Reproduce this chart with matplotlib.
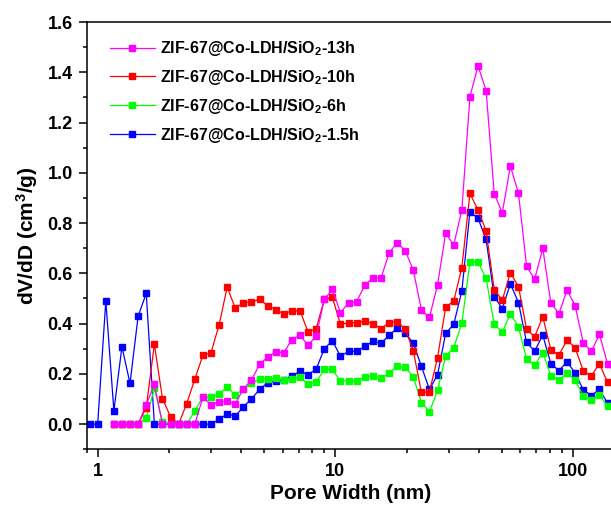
import numpy as np
import matplotlib
matplotlib.use("Agg")
import matplotlib.pyplot as plt
from matplotlib.ticker import MultipleLocator, LogLocator, FixedLocator, FixedFormatter, NullFormatter

nan = np.nan

# pore width grid (nm)
pore_width = [
    0.926, 1.001, 1.083, 1.171, 1.266, 1.369, 1.481, 1.602, 1.733, 1.874,
    2.027, 2.192, 2.371, 2.564, 2.773, 2.999, 3.243, 3.508, 3.793, 4.103,
    4.437, 4.799, 5.190, 5.613, 6.070, 6.566, 7.101, 7.680, 8.306, 8.983,
    9.714, 10.51, 11.36, 12.29, 13.29, 14.38, 15.55, 16.82, 18.19, 19.67,
    21.27, 23.01, 24.88, 26.91, 29.10, 31.47, 34.04, 36.81, 39.81, 43.06,
    46.57, 50.36, 54.47, 58.91, 63.71, 68.90, 74.52, 80.59, 87.16, 94.28,
    101.9, 110.3, 119.3, 129.0, 139.5, 150.9,
]

dv_13h = [
    nan, nan, nan, 0, 0, 0, 0, 0.077, 0.158, 0,
    0, 0, 0, 0, 0.107, 0.078, 0.089, 0.091, 0.081, 0.140,
    0.175, 0.238, 0.267, 0.287, 0.285, 0.336, 0.354, 0.314, 0.350, 0.496,
    0.536, 0.443, 0.483, 0.487, 0.553, 0.582, 0.580, 0.681, 0.722, 0.690,
    0.613, 0.454, 0.425, 0.555, 0.760, 0.713, 0.852, 1.303, 1.425, 1.327,
    0.917, 0.841, 1.027, 0.918, 0.629, 0.576, 0.700, 0.482, 0.440, 0.533,
    0.472, 0.324, 0.290, 0.357, 0.241, 0.200,
]

dv_10h = [
    nan, nan, nan, 0, 0, 0, 0, 0.066, 0.318, 0.102,
    0.029, 0, 0.082, 0.179, 0.274, 0.284, 0.395, 0.545, 0.462, 0.482,
    0.487, 0.496, 0.472, 0.456, 0.439, 0.451, 0.451, 0.367, 0.380, 0.496,
    0.504, 0.397, 0.404, 0.404, 0.410, 0.400, 0.380, 0.404, 0.408, 0.378,
    0.293, 0.126, 0.129, 0.265, 0.465, 0.490, 0.623, 0.918, 0.852, 0.769,
    0.535, 0.493, 0.602, 0.547, 0.378, 0.348, 0.427, 0.296, 0.275, 0.334,
    0.305, 0.212, 0.192, 0.241, 0.166, 0.140,
]

dv_6h = [
    nan, nan, nan, 0, 0, 0, 0, 0.024, 0.142, 0.010,
    0, 0, 0, 0.053, 0.107, 0.107, 0.120, 0.148, 0.115, 0.140,
    0.162, 0.180, 0.180, 0.183, 0.175, 0.178, 0.187, 0.159, 0.167, 0.218,
    0.218, 0.170, 0.173, 0.170, 0.188, 0.192, 0.184, 0.202, 0.231, 0.226,
    0.188, 0.086, 0.050, 0.134, 0.272, 0.305, 0.401, 0.645, 0.645, 0.580,
    0.398, 0.365, 0.440, 0.387, 0.259, 0.235, 0.285, 0.192, 0.175, 0.204,
    0.175, 0.113, 0.098, 0.115, 0.073, 0.060,
]

dv_1p5h = [
    0, 0, 0.491, 0.053, 0.308, 0.162, 0.430, 0.520, 0, 0,
    0, 0, 0, 0, 0, 0, 0.019, 0.041, 0.032, 0.069,
    0.100, 0.138, 0.165, 0.172, 0.177, 0.192, 0.210, 0.197, 0.219, 0.300,
    0.332, 0.270, 0.290, 0.290, 0.309, 0.330, 0.322, 0.353, 0.382, 0.363,
    0.322, 0.230, 0.138, 0.197, 0.361, 0.397, 0.530, 0.845, 0.819, 0.735,
    0.507, 0.460, 0.558, 0.484, 0.325, 0.291, 0.354, 0.241, 0.213, 0.248,
    0.204, 0.137, 0.114, 0.138, 0.084, 0.055,
]

labels = [
    r"ZIF-67@Co-LDH/SiO$_\mathbf{2}$-13h",
    r"ZIF-67@Co-LDH/SiO$_\mathbf{2}$-10h",
    r"ZIF-67@Co-LDH/SiO$_\mathbf{2}$-6h",
    r"ZIF-67@Co-LDH/SiO$_\mathbf{2}$-1.5h",
]
colors = ["#FF00FF", "#FF0000", "#00FF00", "#0000FF"]
series = [dv_13h, dv_10h, dv_6h, dv_1p5h]

plt.rcParams["font.family"] = ["Liberation Sans", "DejaVu Sans"]
plt.rcParams["font.weight"] = "bold"
plt.rcParams["mathtext.fontset"] = "custom"
plt.rcParams["mathtext.rm"] = "Liberation Sans:bold"
plt.rcParams["mathtext.bf"] = "Liberation Sans:bold"
plt.rcParams["mathtext.it"] = "Liberation Sans:bold"

fig = plt.figure(figsize=(6.11, 5.09), dpi=100)
W, H = 611, 509
left, right, top, bottom = 86.7, 615.0, 22.0, 449.3
ax = fig.add_axes([left / W, 1 - bottom / H, (right - left) / W, (bottom - top) / H])

# 13h on top, 1.5h at the bottom
zorders = [5, 4, 3, 2]
for ys, lab, c, z in zip(series, labels, colors, zorders):
    ax.plot(pore_width, ys, color=c, lw=0.9, marker="s", ms=4,
            mec=c, mfc=c, label=lab, zorder=z)

ax.set_xscale("log")
ax.set_xlim(0.9, 150)
ax.set_ylim(-0.1, 1.6)

ax.xaxis.set_major_locator(FixedLocator([1, 10, 100]))
ax.xaxis.set_major_formatter(FixedFormatter(["1", "10", "100"]))
ax.xaxis.set_minor_locator(LogLocator(base=10, subs=[2, 3, 4, 5, 6, 7, 8, 9], numticks=20))
ax.xaxis.set_minor_formatter(NullFormatter())
ax.yaxis.set_minor_locator(MultipleLocator(0.1))
ax.set_yticks(np.arange(0, 1.61, 0.2))
ax.set_yticklabels([f"{v:.1f}" for v in np.arange(0, 1.61, 0.2)])

ax.tick_params(axis="both", which="major", direction="out", length=6, width=1.1,
               labelsize=13, pad=4, top=False, right=False)
ax.tick_params(axis="both", which="minor", direction="out", length=3, width=1.1,
               top=False, right=False)
for sp in ax.spines.values():
    sp.set_linewidth(1.1)

ax.set_xlabel("Pore Width (nm)", fontsize=15, fontweight="bold", labelpad=3)
ax.set_ylabel(r"dV/dD (cm$^\mathbf{3}$/g)", fontsize=15, fontweight="bold", labelpad=5)

leg = ax.legend(loc="upper left", bbox_to_anchor=(0.044, 0.96), frameon=False,
                fontsize=11.5, handlelength=2.8, handletextpad=0.35,
                labelspacing=0.62, borderpad=0, borderaxespad=0)
for t in leg.get_texts():
    t.set_fontweight("bold")

fig.savefig("out.png", dpi=100)
